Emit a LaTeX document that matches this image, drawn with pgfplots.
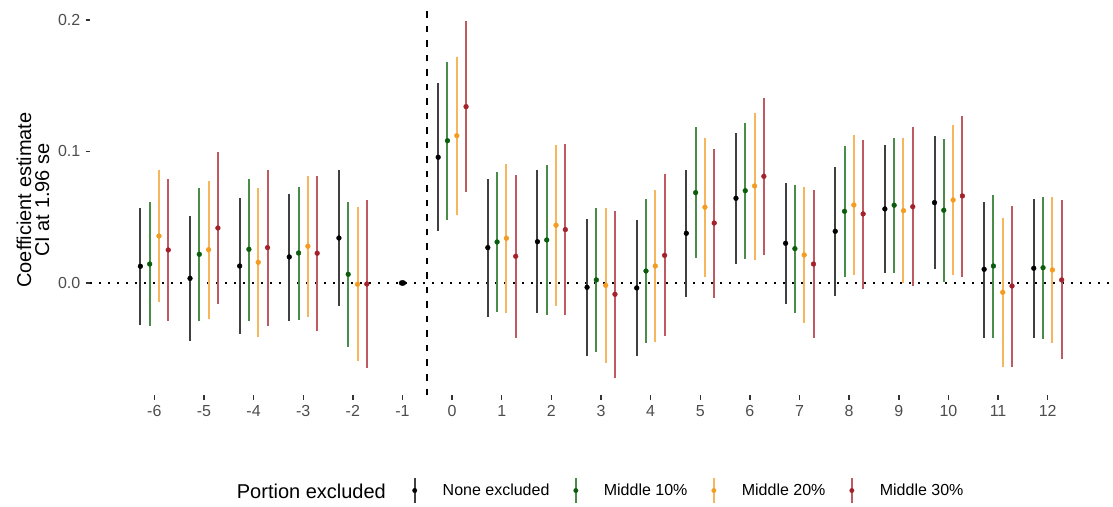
\documentclass[border=0pt]{standalone}
\usepackage{pgfplots}
\pgfplotsset{compat=1.18}
\usepackage{pgfplotstable}
\usepackage{fontspec}
\setmainfont{Liberation Sans}

\definecolor{blk}{HTML}{000000}
\definecolor{blkline}{HTML}{404040}
\definecolor{grn}{HTML}{0B5D0B}
\definecolor{grnline}{HTML}{4A8C4A}
\definecolor{org}{HTML}{F39C1F}
\definecolor{orgline}{HTML}{F5B65E}
\definecolor{rd}{HTML}{A3222B}
\definecolor{rdline}{HTML}{BE5A62}
\definecolor{gray30}{HTML}{4D4D4D}
\definecolor{gray20}{HTML}{333333}

\pgfplotstableread{
x y lo hi
-6 0.0127 -0.0319 0.0573
-5 0.0035 -0.0444 0.0512
-4 0.0129 -0.0390 0.0644
-3 0.0198 -0.0289 0.0680
-2 0.0342 -0.0177 0.0862
0 0.0956 0.0395 0.1519
1 0.0269 -0.0259 0.0791
2 0.0314 -0.0231 0.0859
3 -0.0033 -0.0555 0.0484
4 -0.0038 -0.0553 0.0477
5 0.0378 -0.0104 0.0857
6 0.0644 0.0144 0.1143
7 0.0302 -0.0160 0.0763
8 0.0393 -0.0096 0.0882
9 0.0563 0.0079 0.1047
10 0.0611 0.0104 0.1118
11 0.0104 -0.0416 0.0618
12 0.0112 -0.0416 0.0636
}\none

\pgfplotstableread{
x y lo hi
-6 0.0144 -0.0330 0.0618
-5 0.0218 -0.0287 0.0720
-4 0.0256 -0.0287 0.0791
-3 0.0228 -0.0279 0.0733
-2 0.0066 -0.0484 0.0618
0 0.1082 0.0477 0.1680
1 0.0312 -0.0223 0.0844
2 0.0327 -0.0246 0.0897
3 0.0023 -0.0527 0.0573
4 0.0091 -0.0459 0.0639
5 0.0687 0.0188 0.1184
6 0.0702 0.0185 0.1219
7 0.0261 -0.0231 0.0748
8 0.0545 0.0043 0.1044
9 0.0591 0.0079 0.1103
10 0.0553 0.0010 0.1093
11 0.0129 -0.0416 0.0669
12 0.0116 -0.0428 0.0652
}\midten

\pgfplotstableread{
x y lo hi
-6 0.0357 -0.0147 0.0859
-5 0.0253 -0.0274 0.0776
-4 0.0157 -0.0413 0.0720
-3 0.0279 -0.0259 0.0816
-2 -0.0010 -0.0593 0.0578
0 0.1120 0.0515 0.1721
1 0.0340 -0.0226 0.0903
2 0.0439 -0.0175 0.1049
3 -0.0018 -0.0606 0.0568
4 0.0129 -0.0449 0.0705
5 0.0576 0.0046 0.1105
6 0.0738 0.0177 0.1293
7 0.0213 -0.0307 0.0730
8 0.0593 0.0058 0.1125
9 0.0550 0.0000 0.1100
10 0.0631 0.0061 0.1199
11 -0.0071 -0.0636 0.0494
12 0.0099 -0.0459 0.0654
}\midtwenty

\pgfplotstableread{
x y lo hi
-6 0.0251 -0.0289 0.0791
-5 0.0418 -0.0162 0.0999
-4 0.0269 -0.0325 0.0859
-3 0.0226 -0.0365 0.0814
-2 -0.0008 -0.0649 0.0634
0 0.1341 0.0690 0.1990
1 0.0203 -0.0416 0.0821
2 0.0406 -0.0246 0.1057
3 -0.0086 -0.0725 0.0550
4 0.0210 -0.0403 0.0829
5 0.0456 -0.0112 0.1021
6 0.0811 0.0210 0.1409
7 0.0144 -0.0416 0.0707
8 0.0525 -0.0043 0.1087
9 0.0580 -0.0020 0.1184
10 0.0662 0.0048 0.1272
11 -0.0023 -0.0636 0.0588
12 0.0023 -0.0580 0.0631
}\midthirty

\newcommand{\keyimg}[2]{%
  \path[draw=none, fill=none] (-2pt,0pt) -- (28pt,0pt);
  \draw[#1, line width=2pt] (0pt,-12.5pt) -- (0pt,12.5pt);
  \fill[#2] (0pt,0pt) circle (2.2pt);}

\begin{document}
\begin{tikzpicture}
\useasboundingbox (0pt,0pt) rectangle (1113pt,506pt);
\begin{axis}[
  at={(90pt,111pt)}, anchor=south west,
  scale only axis, width=1020pt, height=390pt,
  xmin=-7.296, xmax=13.255,
  ymin=-0.0852, ymax=0.2114,
  axis x line*=bottom, axis y line*=left,
  axis line style={draw=none},
  tick align=outside,
  major tick length=4.5pt,
  tick style={gray20, line width=1.4pt},
  xtick={-6,-5,-4,-3,-2,-1,0,1,2,3,4,5,6,7,8,9,10,11,12},
  xticklabels={-6,-5,-4,-3,-2,-1,0,1,2,3,4,5,6,7,8,9,10,11,12},
  ytick={0,0.1,0.2},
  yticklabels={0.0,0.1,0.2},
  xticklabel style={font=\fontsize{16}{19}\selectfont, text=gray30, inner sep=0pt, yshift=-6pt},
  yticklabel style={font=\fontsize{16}{19}\selectfont, text=gray30, inner sep=0pt, xshift=-5pt},
  clip=false,
  legend style={at={(axis description cs:0.316,-0.2449)}, anchor=west,
    draw=none, fill=none, inner sep=0pt, outer sep=0pt,
    font=\fontsize{16}{19}\selectfont,
    legend columns=-1,
    nodes={inner sep=0pt},
    /tikz/every even column/.append style={column sep=24pt}},
  legend cell align=left,
]
% reference lines
\draw[black, line width=2pt, dash pattern=on 2pt off 7pt]
  (axis cs:-7.296,0) -- (axis cs:13.255,0);
\draw[black, line width=2pt, dash pattern=on 6.5pt off 8pt]
  (axis cs:-0.5,-0.0852) -- (axis cs:-0.5,0.2114);

% legend images
\addlegendimage{legend image code/.code={\keyimg{blkline}{blk}}}
\addlegendentry{None excluded}
\addlegendimage{legend image code/.code={\keyimg{grnline}{grn}}}
\addlegendentry{Middle 10\%}
\addlegendimage{legend image code/.code={\keyimg{orgline}{org}}}
\addlegendentry{Middle 20\%}
\addlegendimage{legend image code/.code={\keyimg{rdline}{rd}}}
\addlegendentry{Middle 30\%}

% data
\addplot[forget plot, only marks, mark=*, mark size=2.4pt, color=blk,
  error bars/.cd, y dir=both, y explicit, error mark=none,
  error bar style={line width=2pt, color=blkline}]
  table[x expr=\thisrow{x}-0.281, y=y,
        y error plus expr=\thisrow{hi}-\thisrow{y},
        y error minus expr=\thisrow{y}-\thisrow{lo}] {\none};
\addplot[forget plot, only marks, mark=*, mark size=2.4pt, color=grn,
  error bars/.cd, y dir=both, y explicit, error mark=none,
  error bar style={line width=2pt, color=grnline}]
  table[x expr=\thisrow{x}-0.094, y=y,
        y error plus expr=\thisrow{hi}-\thisrow{y},
        y error minus expr=\thisrow{y}-\thisrow{lo}] {\midten};
\addplot[forget plot, only marks, mark=*, mark size=2.4pt, color=org,
  error bars/.cd, y dir=both, y explicit, error mark=none,
  error bar style={line width=2pt, color=orgline}]
  table[x expr=\thisrow{x}+0.094, y=y,
        y error plus expr=\thisrow{hi}-\thisrow{y},
        y error minus expr=\thisrow{y}-\thisrow{lo}] {\midtwenty};
\addplot[forget plot, only marks, mark=*, mark size=2.4pt, color=rd,
  error bars/.cd, y dir=both, y explicit, error mark=none,
  error bar style={line width=2pt, color=rdline}]
  table[x expr=\thisrow{x}+0.281, y=y,
        y error plus expr=\thisrow{hi}-\thisrow{y},
        y error minus expr=\thisrow{y}-\thisrow{lo}] {\midthirty};
% reference period
\addplot[forget plot, only marks, mark=*, mark size=2.7pt, color=blk,
  mark options={xscale=1.3}] coordinates {(-1,0)};
\end{axis}

% axis title and legend title
\node[rotate=90, anchor=base, inner sep=0pt, font=\fontsize{20}{24}\selectfont]
  at (31pt,306pt) {Coefficient estimate};
\node[rotate=90, anchor=base, inner sep=0pt, font=\fontsize{20}{24}\selectfont]
  at (49pt,306pt) {CI at 1.96 se};
\node[anchor=base west, inner sep=0pt, font=\fontsize{20}{24}\selectfont]
  at (236.7pt,8pt) {Portion excluded};
\end{tikzpicture}
\end{document}
